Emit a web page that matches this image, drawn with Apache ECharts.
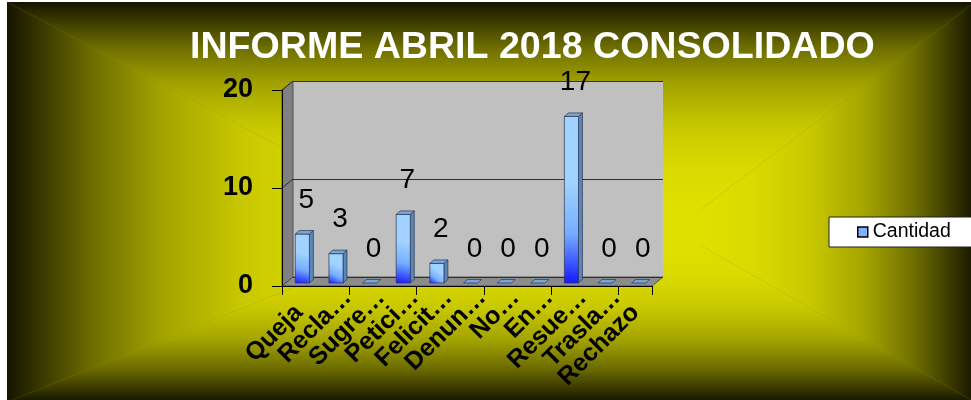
<!DOCTYPE html>
<html>
<head>
<meta charset="utf-8">
<script src="https://cdn.jsdelivr.net/npm/echarts@6/dist/echarts.min.js"></script>
<style>
  html, body { margin: 0; padding: 0; background: #fff; }
  #chart { width: 971px; height: 400px; }
</style>
</head>
<body>
<div id="chart"></div>
<script>
// data
const categories = ['Queja', 'Recla…', 'Sugre…', 'Petici…', 'Felicit…', 'Denun…', 'No…', 'En…', 'Resue…', 'Trasla…', 'Rechazo']
const cantidad = [5, 3, 0, 7, 2, 0, 0, 0, 17, 0, 0]
const yTicks = [0, 10, 20]
const seriesName = 'Cantidad'
const titleText = 'INFORME ABRIL 2018 CONSOLIDADO'

const FONT = 'Arial, "Liberation Sans", sans-serif'

// front plane of the 3d plot and its depth offset
const FRONT = { left: 282, top: 90, width: 370, height: 196 }
const DX = 11
const DY = -9
const yMax = yTicks[yTicks.length - 1]

// background: rectangular "from center" gradient
const BG = { l: 7, t: 2, r: 975, b: 402 }
const CEN = { x1: 400, x2: 700, y1: 210, y2: 245 }
const BG_STOPS = [
  { offset: 0, color: '#e0e000' },
  { offset: 0.2, color: '#dada00' },
  { offset: 0.4, color: '#c8c800' },
  { offset: 0.6, color: '#a4a400' },
  { offset: 0.78, color: '#6e6e00' },
  { offset: 0.92, color: '#363600' },
  { offset: 1, color: '#141400' }
]
const lin = (x, y, x2, y2) => ({ type: 'linear', x, y, x2, y2, global: true, colorStops: BG_STOPS })

const yAt = (v) => FRONT.top + FRONT.height * (1 - v / yMax)
const fx0 = FRONT.left
const fx1 = FRONT.left + FRONT.width
const fy0 = FRONT.top + FRONT.height

const background = [
  { type: 'rect', z: -20, shape: { x: BG.l, y: BG.t, width: BG.r - BG.l, height: BG.b - BG.t }, style: { fill: '#8a8a00' } },
  { type: 'polygon', z: -19, shape: { points: [[BG.l, BG.t], [BG.r, BG.t], [CEN.x2, CEN.y1], [CEN.x1, CEN.y1]] }, style: { fill: lin(0, CEN.y1, 0, BG.t) } },
  { type: 'polygon', z: -19, shape: { points: [[CEN.x1, CEN.y2], [CEN.x2, CEN.y2], [BG.r, BG.b], [BG.l, BG.b]] }, style: { fill: lin(0, CEN.y2, 0, BG.b) } },
  { type: 'polygon', z: -19, shape: { points: [[BG.l, BG.t], [CEN.x1, CEN.y1], [CEN.x1, CEN.y2], [BG.l, BG.b]] }, style: { fill: lin(CEN.x1, 0, BG.l, 0) } },
  { type: 'polygon', z: -19, shape: { points: [[CEN.x2, CEN.y1], [BG.r, BG.t], [BG.r, BG.b], [CEN.x2, CEN.y2]] }, style: { fill: lin(CEN.x2, 0, BG.r, 0) } },
  { type: 'rect', z: -19, shape: { x: CEN.x1, y: CEN.y1, width: CEN.x2 - CEN.x1, height: CEN.y2 - CEN.y1 }, style: { fill: BG_STOPS[0].color } }
]

// walls and floor of the 3d box
const walls = [
  { type: 'rect', z: -10, shape: { x: fx0 + DX, y: FRONT.top + DY, width: FRONT.width, height: FRONT.height }, style: { fill: '#c0c0c0' } },
  { type: 'polygon', z: -10, shape: { points: [[fx0, FRONT.top], [fx0 + DX, FRONT.top + DY], [fx0 + DX, fy0 + DY], [fx0, fy0]] }, style: { fill: '#808080', stroke: '#404040', lineWidth: 0.8 } },
  { type: 'polygon', z: -10, shape: { points: [[fx0, fy0], [fx1, fy0], [fx1 + DX, fy0 + DY], [fx0 + DX, fy0 + DY]] }, style: { fill: '#8c8c8c', stroke: '#404040', lineWidth: 0.8 } }
].concat(yTicks.slice(1).map(v => ({
  type: 'line', z: -9,
  shape: { x1: fx0, y1: yAt(v), x2: fx0 + DX, y2: yAt(v) + DY },
  style: { stroke: '#303030', lineWidth: 1 }
})))

const renderBar = (params, api) => {
  const i = api.value(0)
  const v = api.value(1)
  const base = api.coord([i, 0])
  const top = api.coord([i, v])
  const w = api.size([1, 0])[0] * 0.42
  const x0 = base[0] + DX * 0.32 - w / 2
  const x1 = x0 + w
  const yb = base[1] + DY * 0.33
  const yt = top[1] + DY * 0.33
  const ddx = DX * 0.36
  const ddy = DY * 0.39
  const edge = '#2a3550'
  const children = []
  if (v > 0) {
    children.push({
      type: 'polygon',
      shape: { points: [[x1, yt], [x1 + ddx, yt + ddy], [x1 + ddx, yb + ddy], [x1, yb]] },
      style: { fill: '#5b86b8', stroke: edge, lineWidth: 0.7 }
    })
    children.push({
      type: 'rect',
      shape: { x: x0, y: yt, width: w, height: yb - yt },
      style: {
        fill: {
          type: 'linear', x: 0, y: 1, x2: 0.6, y2: 0.4,
          colorStops: [{ offset: 0, color: '#1515ff' }, { offset: 0.5, color: '#75aeff' }, { offset: 1, color: '#a2d2ff' }]
        },
        stroke: edge, lineWidth: 0.7
      }
    })
  }
  children.push({
    type: 'polygon',
    shape: { points: [[x0, yt], [x0 + ddx, yt + ddy], [x1 + ddx, yt + ddy], [x1, yt]] },
    style: { fill: '#78a6d6', stroke: edge, lineWidth: 0.7 }
  })
  children.push({
    type: 'text',
    x: x0 + w / 2 + 4,
    y: yt - 34,
    style: { text: String(v), fill: '#000', font: '28px ' + FONT, align: 'center', verticalAlign: 'middle' }
  })
  return { type: 'group', children }
}

const chart = echarts.init(document.getElementById('chart'), null, { renderer: 'canvas' })

chart.setOption({
  backgroundColor: '#ffffff',
  animation: false,
  title: {
    text: titleText,
    left: 190,
    top: 29,
    padding: 0,
    textStyle: { color: '#ffffff', fontSize: 37.6, fontWeight: 'bold', fontFamily: FONT }
  },
  legend: {
    data: [seriesName],
    orient: 'vertical',
    left: 829,
    top: 217,
    padding: [5, 40, 5, 28],
    itemWidth: 10,
    itemHeight: 10,
    icon: 'rect',
    backgroundColor: '#ffffff',
    borderColor: '#202020',
    borderWidth: 1,
    borderRadius: 0,
    itemStyle: { color: '#7fb0ff', borderColor: '#000', borderWidth: 1.5 },
    textStyle: { color: '#000', fontSize: 19.5, fontFamily: FONT }
  },
  graphic: { elements: background.concat(walls) },
  grid: [
    FRONT,
    { left: FRONT.left + DX, top: FRONT.top + DY, width: FRONT.width, height: FRONT.height },
    { left: FRONT.left + 15, top: FRONT.top, width: FRONT.width, height: FRONT.height }
  ],
  xAxis: [
    {
      type: 'category', gridIndex: 0, data: categories,
      axisLine: { show: true, lineStyle: { color: '#000', width: 1 } },
      axisTick: { show: true, length: 9, lineStyle: { color: '#000' } },
      axisLabel: { show: false }
    },
    { type: 'category', gridIndex: 1, data: categories, show: false },
    {
      type: 'category', gridIndex: 2, data: categories,
      axisLine: { show: false }, axisTick: { show: false },
      axisLabel: {
        interval: 0, rotate: 45, margin: 8,
        color: '#000', fontSize: 25, fontWeight: 'bold', fontFamily: FONT,
        formatter: (v) => v.endsWith('…') ? v : '{f|' + v + '}',
        rich: { f: { padding: [0, 21, 0, 0], color: '#000', fontSize: 25, fontWeight: 'bold', fontFamily: FONT } }
      }
    }
  ],
  yAxis: [
    {
      type: 'value', gridIndex: 0, min: 0, max: yMax, interval: 10,
      axisLine: { show: true, lineStyle: { color: '#000', width: 1 } },
      axisTick: { show: true, length: 10, lineStyle: { color: '#000' } },
      splitLine: { show: false },
      axisLabel: { margin: 29, color: '#000', fontSize: 27, fontWeight: 'bold', fontFamily: FONT }
    },
    {
      type: 'value', gridIndex: 1, min: 0, max: yMax, interval: 10,
      axisLine: { show: false }, axisTick: { show: false }, axisLabel: { show: false },
      splitLine: { show: true, lineStyle: { color: '#303030', width: 1 } }
    },
    { type: 'value', gridIndex: 2, min: 0, max: yMax, show: false }
  ],
  series: [
    {
      name: seriesName,
      type: 'custom',
      xAxisIndex: 0,
      yAxisIndex: 0,
      itemStyle: { color: '#7fb0ff' },
      renderItem: renderBar,
      encode: { x: 0, y: 1 },
      data: cantidad.map((v, i) => [i, v]),
      z: 5
    }
  ]
})
</script>
</body>
</html>
